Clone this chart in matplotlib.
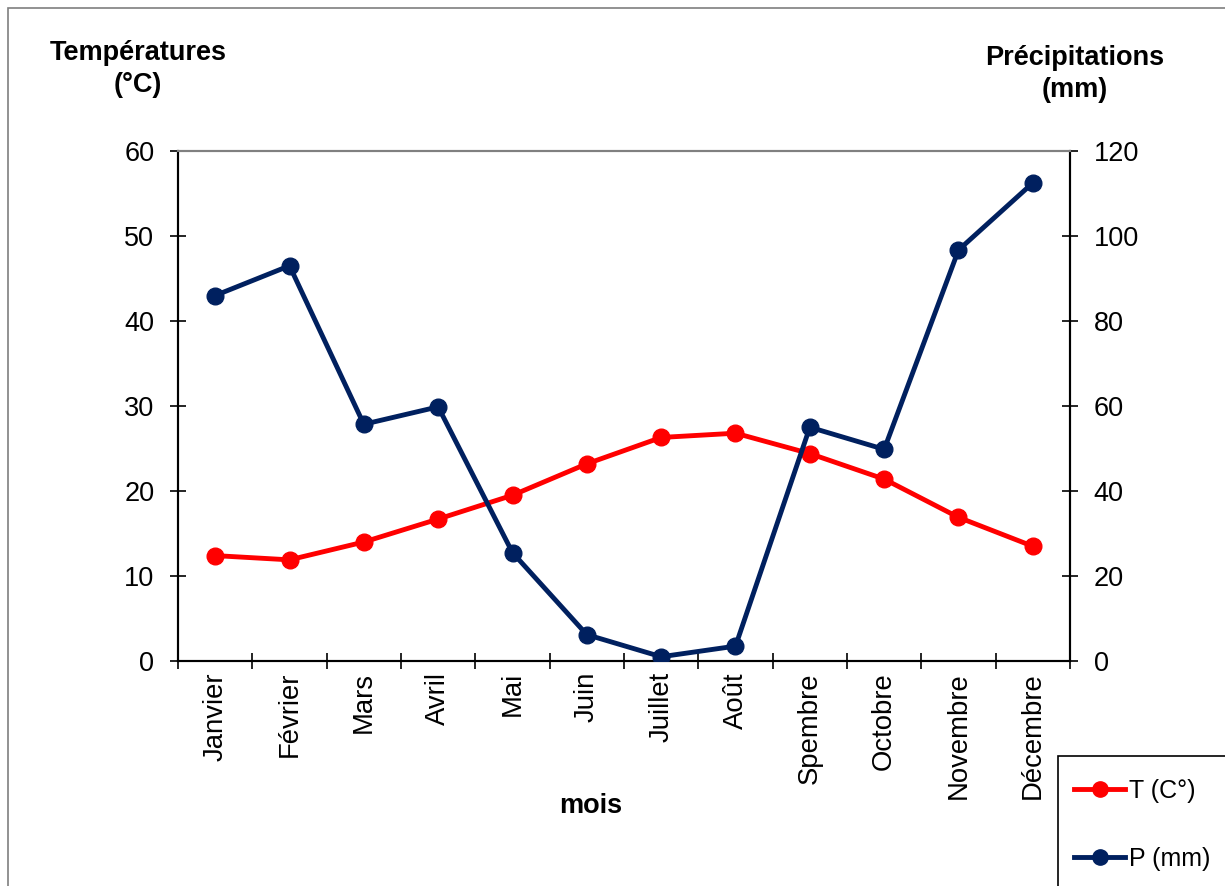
import matplotlib.pyplot as plt
from matplotlib.patches import Rectangle
from matplotlib.lines import Line2D

plt.rcParams['font.family'] = ['Liberation Sans', 'DejaVu Sans']

# Monthly climate data
mois = ['Janvier', 'Février', 'Mars', 'Avril', 'Mai', 'Juin', 'Juillet',
        'Août', 'Spembre', 'Octobre', 'Novembre', 'Décembre']
temperature = [12.4, 11.9, 14.0, 16.7, 19.5, 23.2, 26.3, 26.8, 24.4, 21.4, 16.9, 13.5]
precipitation = [86.0, 93.0, 55.7, 59.8, 25.5, 6.2, 1.0, 3.5, 55.0, 49.8, 96.7, 112.5]

red = '#FF0000'
navy = '#00205F'
fs = 19.5

fig = plt.figure(figsize=(12.25, 8.86), dpi=100)
W, H = 1225, 886

# outer frame of the chart area
fig.patches.append(Rectangle((8 / W, -0.1), 1.2, 1 - 8 / H + 0.1, transform=fig.transFigure,
                             fill=False, edgecolor='#7f7f7f', linewidth=1.2))

ax = fig.add_axes([178 / W, 1 - 661 / H, (1070 - 178) / W, (661 - 151) / H])
ax2 = ax.twinx()

x = list(range(len(mois)))
ax.plot(x, temperature, color=red, lw=3.5, marker='o', ms=12, zorder=3)
ax2.plot(x, precipitation, color=navy, lw=3.5, marker='o', ms=12, zorder=3)

ax.set_xlim(-0.5, len(mois) - 0.5)
ax.set_ylim(0, 60)
ax2.set_ylim(0, 120)
ax.set_yticks(range(0, 61, 10))
ax2.set_yticks(range(0, 121, 20))

# ticks between categories, labels at centres
ax.set_xticks([i - 0.5 for i in range(len(mois) + 1)])
ax.set_xticklabels([])
ax.set_xticks(x, minor=True)
ax.set_xticklabels(mois, minor=True, rotation=90, fontsize=19.8)
ax.tick_params(axis='x', which='minor', length=0, pad=8)
ax.tick_params(axis='x', which='major', direction='inout', length=12, width=1.2)
ax.tick_params(axis='y', direction='inout', length=12, width=1.2, labelsize=fs, pad=11)
ax2.tick_params(axis='y', direction='inout', length=12, width=1.2, labelsize=fs, pad=11)

for a in (ax, ax2):
    for s in ('left', 'right', 'bottom'):
        a.spines[s].set_linewidth(1.5)
        a.spines[s].set_color('black')
    a.spines['top'].set_color('#808080')
    a.spines['top'].set_linewidth(1.5)

fig.text(138 / W, 1 - 69 / H, 'Températures\n(°C)', ha='center', va='center',
         fontsize=fs, fontweight='bold', linespacing=1.3)
fig.text(1075 / W, 1 - 74 / H, 'Précipitations\n(mm)', ha='center', va='center',
         fontsize=fs, fontweight='bold', linespacing=1.3)
fig.text(591 / W, 1 - 806 / H, 'mois', ha='center', va='center',
         fontsize=fs, fontweight='bold')

# legend box, running off the edge
fig.patches.append(Rectangle((1058 / W, -0.1), 0.2, 1 - 756 / H + 0.1, transform=fig.transFigure,
                             fill=False, edgecolor='black', linewidth=1.2))
handles = [Line2D([], [], color=red, lw=3.5, marker='o', ms=11),
           Line2D([], [], color=navy, lw=3.5, marker='o', ms=11)]
fig.legend(handles, ['T (C°)', 'P (mm)'], loc='upper left',
           bbox_to_anchor=(1064 / W, 1 - 769 / H), frameon=False, fontsize=18,
           handlelength=2.05, handletextpad=0.15, labelspacing=1.75, borderaxespad=0)

fig.savefig('out.png', dpi=100)
